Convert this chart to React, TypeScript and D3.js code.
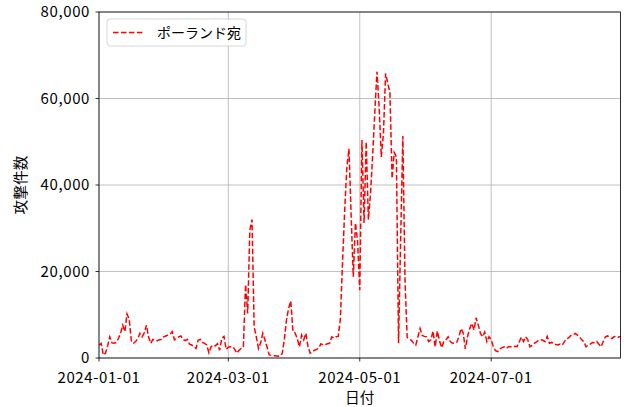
import React from "react";
import * as d3 from "d3";

const seriesName = "ポーランド宛";
const xLabel = "日付";
const yLabel = "攻撃件数";
const startDate = "2024-01-01";
const endDate = "2024-08-30";
const xTickLabels = ["2024-01-01", "2024-03-01", "2024-05-01", "2024-07-01"];
const yTicks = [0, 20000, 40000, 60000, 80000];

const jan = [3000, 3400, 700, 1100, 2800, 4900, 3500, 3400, 3600, 4500, 5700, 7600, 6100, 10200, 9000, 4000, 3400, 3800, 4500, 5700, 4900, 5800, 7600, 4900, 3400, 4300, 4100, 4000, 4200, 4300, 4900];
const feb = [5100, 5300, 5500, 6100, 4200, 4500, 4900, 5100, 4300, 4000, 4300, 3200, 3000, 2600, 2200, 4100, 4300, 3600, 3400, 3000, 1200, 2600, 3000, 2800, 3300, 1800, 4600, 5000, 2000];
const mar = [2500, 2600, 2600, 2000, 1100, 1800, 2200, 2600, 17000, 10300, 29600, 32000, 7200, 4900, 2200, 3500, 5700, 4200, 2500, 700, 600, 500, 500, 400, 500, 1000, 4200, 8800, 11500, 13200, 6100];
const apr = [5800, 4500, 2600, 5300, 4200, 5700, 2600, 1100, 1400, 1800, 2000, 2300, 3300, 3000, 3100, 3300, 3400, 4900, 4600, 4900, 5000, 9000, 22000, 34000, 44000, 48400, 33000, 18800, 31200, 27000];
const may = [15700, 50400, 31200, 50000, 32000, 38000, 47000, 57000, 66200, 58000, 46500, 52000, 65800, 63500, 61500, 41500, 47500, 46500, 3400, 28000, 51300, 18000, 4800, 4300, 4100, 3400, 3000, 4900, 6800, 5200, 5000];
const jun = [4900, 3800, 4200, 6200, 2600, 6200, 4000, 2400, 3800, 4200, 4900, 3800, 3400, 3500, 3600, 4900, 6800, 5800, 2100, 4900, 6800, 8000, 6500, 9300, 7600, 5700, 4900, 6000, 3800, 4900];
const jul = [4200, 2600, 1700, 1500, 2100, 2400, 2600, 2200, 2600, 2600, 2500, 2700, 2600, 3700, 4800, 3800, 4900, 4200, 2600, 2900, 3400, 3700, 4100, 4200, 4100, 3800, 5000, 3400, 3600, 3400, 3100];
const aug = [3000, 3200, 3000, 3800, 4400, 4700, 5200, 5400, 5700, 5300, 4900, 4200, 3800, 2600, 3000, 3200, 3600, 3500, 3800, 3200, 2600, 3800, 4900, 5100, 4800, 4500, 4900, 5000, 4800, 5000];

const W = 627;
const H = 407;
const M = { left: 99, right: 6.5, top: 12, bottom: 49 };
const FONT = "'Noto Sans CJK JP', 'Noto Sans', sans-serif";
const TICK_FONT = 15;

const parse = d3.utcParse("%Y-%m-%d");

export default function App() {
  const values = [...jan, ...feb, ...mar, ...apr, ...may, ...jun, ...jul, ...aug];
  const start = parse(startDate) as Date;
  const data = values.map((v, i) => ({ date: d3.utcDay.offset(start, i), value: v }));

  const x = d3
    .scaleUtc()
    .domain([start, parse(endDate) as Date])
    .range([M.left, W - M.right]);
  const y = d3.scaleLinear().domain([0, 80000]).range([H - M.bottom, M.top]);

  const line = d3
    .line<{ date: Date; value: number }>()
    .x((d) => x(d.date))
    .y((d) => y(d.value));

  const fmt = d3.format(",");
  const x0 = M.left;
  const x1 = W - M.right;
  const y0 = H - M.bottom;
  const y1 = M.top;

  return (
    <svg
      width={W}
      height={H}
      style={{ position: "absolute", left: 0, top: 0, background: "#fff" }}
      fontFamily={FONT}
    >
      <rect x={0} y={0} width={W} height={H} fill="#fff" />
      {xTickLabels.map((t) => {
        const xx = x(parse(t) as Date);
        return <line key={"gx" + t} x1={xx} x2={xx} y1={y0} y2={y1} stroke="#b0b0b0" strokeWidth={0.8} />;
      })}
      {yTicks.map((t) => (
        <line key={"gy" + t} x1={x0} x2={x1} y1={y(t)} y2={y(t)} stroke="#b0b0b0" strokeWidth={0.8} />
      ))}
      <path
        d={line(data) || ""}
        fill="none"
        stroke="#ff0000"
        strokeWidth={1.5}
        strokeDasharray="5.55,2.4"
      />
      <rect x={x0} y={y1} width={x1 - x0} height={y0 - y1} fill="none" stroke="#000" strokeWidth={0.8} />
      {xTickLabels.map((t) => {
        const xx = x(parse(t) as Date);
        return (
          <g key={"xt" + t}>
            <line x1={xx} x2={xx} y1={y0} y2={y0 + 3.5} stroke="#000" strokeWidth={0.8} />
            <text x={xx} y={y0 + 25} textAnchor="middle" fontSize={TICK_FONT} letterSpacing={0.6} fill="#000">
              {t}
            </text>
          </g>
        );
      })}
      {yTicks.map((t) => (
        <g key={"yt" + t}>
          <line x1={x0 - 3.5} x2={x0} y1={y(t)} y2={y(t)} stroke="#000" strokeWidth={0.8} />
          <text x={x0 - 9} y={y(t)} dy="0.34em" textAnchor="end" fontSize={TICK_FONT} letterSpacing={0.6} fill="#000">
            {fmt(t)}
          </text>
        </g>
      ))}
      <text x={(x0 + x1) / 2} y={403} textAnchor="middle" fontSize={14.7} fill="#000">
        {xLabel}
      </text>
      <text
        transform={`translate(26,${(y0 + y1) / 2}) rotate(-90)`}
        textAnchor="middle"
        fontSize={14.7}
        fill="#000"
      >
        {yLabel}
      </text>
      <g>
        <rect x={107} y={19} width={139} height={27} rx={3} fill="#fff" fillOpacity={0.8} stroke="#cccccc" strokeWidth={0.8} />
        <line x1={113} x2={143} y1={32.5} y2={32.5} stroke="#ff0000" strokeWidth={1.5} strokeDasharray="5.55,2.4" />
        <text x={157} y={32.5} dy="0.36em" fontSize={14} fill="#000">
          {seriesName}
        </text>
      </g>
    </svg>
  );
}
